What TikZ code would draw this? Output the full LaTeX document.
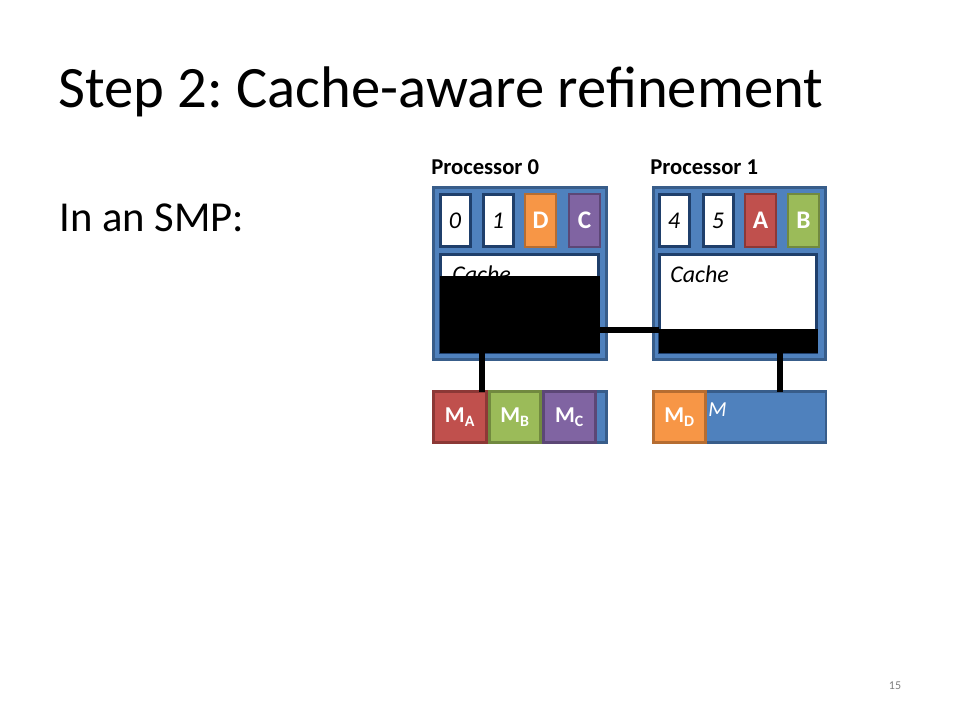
\documentclass[tikz,border=0pt]{standalone}
\usepackage{fontspec}
\setmainfont{Carlito}
\frenchspacing
\newdimen\px \px=0.75pt
\definecolor{pblue}{HTML}{4F81BD}
\definecolor{pblueD}{HTML}{385D8A}
\definecolor{navy}{HTML}{1F3F6B}
\definecolor{cred}{HTML}{C0504D}
\definecolor{credD}{HTML}{8C3836}
\definecolor{cgreen}{HTML}{9BBB59}
\definecolor{cgreenD}{HTML}{71893F}
\definecolor{cpurple}{HTML}{8064A2}
\definecolor{cpurpleD}{HTML}{5C4776}
\definecolor{corange}{HTML}{F79646}
\definecolor{corangeD}{HTML}{B66D31}
\begin{document}
\begin{tikzpicture}[x=0.75pt,y=-0.75pt,
  bx/.style={rectangle, inner sep=0pt, outer sep=0pt},
  proc/.style={bx, draw=pblueD, fill=pblue, line width=3\px},
  reg/.style={bx, draw=navy, fill=white, line width=3\px, minimum width=30\px, minimum height=52\px,
     font=\fontsize{18}{20}\selectfont\itshape},
  creg/.style={bx, line width=2\px, minimum width=31\px, minimum height=53\px,
     font=\fontsize{19}{20}\selectfont\bfseries, text=white},
  cache/.style={bx, draw=navy, fill=white, line width=3\px},
  mem/.style={bx, draw=pblueD, fill=pblue, line width=2.5\px, minimum width=173\px, minimum height=51\px},
  mblk/.style={bx, line width=2.5\px, minimum height=51\px, text=white, font=\fontsize{17}{18}\selectfont\bfseries},
  bus/.style={line width=6.5\px, black},
  ptitle/.style={anchor=base west, inner sep=0pt, font=\fontsize{17}{20}\selectfont\bfseries}
]
\useasboundingbox (0,0) rectangle (960,720);
\fill[white] (0,0) rectangle (960,720);

% title and body
\node[anchor=base west, inner sep=0pt, font=\fontsize{44}{50}\selectfont] (title) at (58,108) {Step 2: Cache-aware refinement};
\node[anchor=base west, inner sep=0pt, font=\fontsize{32}{38}\selectfont] (body) at (59,232) {In an SMP:};

% processor titles
\node[ptitle] (p0t) at (431,175) {Processor 0};
\node[ptitle] (p1t) at (650,175) {Processor 1};

% processor boxes
\node[proc, minimum width=173\px, minimum height=172\px] (p0) at (520,273.5) {};
\node[proc, minimum width=172\px, minimum height=172\px] (p1) at (739.5,273.5) {};

% registers P0
\node[reg] (r0) at (455,220.5) {0};
\node[reg] (r1) at (498,220.5) {1};
\node[creg, draw=corangeD, fill=corange] (rD) at (540.5,220.5) {D};
\node[creg, draw=cpurpleD, fill=cpurple] (rC) at (584.5,220.5) {C};
% registers P1
\node[reg] (r4) at (674,220.5) {4};
\node[reg] (r5) at (718,220.5) {5};
\node[creg, draw=credD, fill=cred] (rA) at (760.5,220.5) {A};
\node[creg, draw=cgreenD, fill=cgreen] (rB) at (803.5,220.5) {B};

% caches
\node[cache, minimum width=158\px, minimum height=98\px] (c0) at (519.5,303.5) {};
\node[cache, minimum width=157\px, minimum height=98\px] (c1) at (738,303.5) {};
\node[anchor=base west, inner sep=0pt, font=\fontsize{18}{20}\selectfont\itshape] (c0t) at (452,282) {Cache};
\node[anchor=base west, inner sep=0pt, font=\fontsize{18}{20}\selectfont\itshape] (c1t) at (670,282) {Cache};

% black overlays
\node[bx, fill=black, minimum width=160\px, minimum height=77\px] (k0) at (520,314.5) {};
\node[bx, fill=black, minimum width=159\px, minimum height=24\px] (k1) at (738.5,341) {};

% memories
\node[mem] (m0) at (520,417) {};
\node[mem] (m1) at (739.5,417) {};
\node[anchor=base west, inner sep=0pt, text=white, font=\fontsize{16}{18}\selectfont\itshape] (m1t) at (708,416) {M};
\node[mblk, draw=credD, fill=cred, minimum width=53\px] (mA) at (460,417) {M\textsubscript{A}};
\node[mblk, draw=cgreenD, fill=cgreen, minimum width=51\px] (mB) at (515,417) {M\textsubscript{B}};
\node[mblk, draw=cpurpleD, fill=cpurple, minimum width=52\px] (mC) at (569.5,417) {M\textsubscript{C}};
\node[mblk, draw=corangeD, fill=corange, minimum width=52\px] (mD) at (679.5,417) {M\textsubscript{D}};

% buses
\draw[bus] (k0.east |- 0,330) -- (k1.west |- 0,330);
\draw[bus] (k0.south -| 482,0) -- (m0.north -| 482,0);
\draw[bus] (k1.south -| 780,0) -- (m1.north -| 780,0);

% page number
\node[anchor=base, inner sep=0pt, text=gray, font=\fontsize{9}{11}\selectfont] (pg) at (895,689) {15};
\end{tikzpicture}
\end{document}
